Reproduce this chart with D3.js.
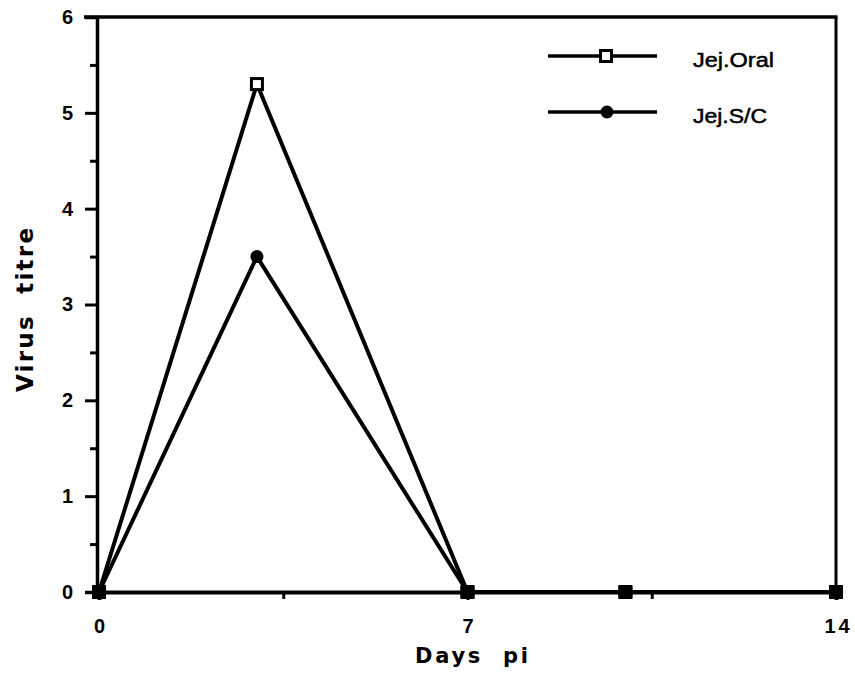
<!DOCTYPE html>
<html><head><meta charset="utf-8">
<script src="https://cdn.jsdelivr.net/npm/d3@7"></script>
<style>body{margin:0;background:#fff}text{font-family:"Liberation Sans",Arial,sans-serif;fill:#000}</style>
</head><body><svg id="c" width="855" height="679"></svg>
<script>
const days = [0, 3, 7, 10, 14];
const jejOral = [0, 5.3, 0, 0, 0];
const jejSC = [0, 3.5, 0, 0, 0];
const xTicks = [0, 7, 14];
const yTicks = [0, 1, 2, 3, 4, 5, 6];
const seriesNames = ["Jej.Oral", "Jej.S/C"];

const svg = d3.select("#c");
const x = d3.scaleLinear().domain([0, 14]).range([99, 836]);
const y = d3.scaleLinear().domain([0, 6]).range([592, 17]);
const FONT = "Liberation Sans, Arial, sans-serif";
const TFONT = "DejaVu Sans, Liberation Sans, sans-serif";

// frame top & right
svg.append("line").attr("x1", 84).attr("x2", x(14)+1.5).attr("y1", y(6)).attr("y2", y(6)).attr("stroke","#000").attr("stroke-width",3.5);
svg.append("line").attr("x1", x(14)).attr("x2", x(14)).attr("y1", y(6)).attr("y2", y(0)).attr("stroke","#000").attr("stroke-width",3);

// y axis
const ya = svg.append("g").attr("transform", `translate(${x(0)-2},0)`)
  .call(d3.axisLeft(y).tickValues(yTicks).tickSize(12).tickPadding(12).tickFormat(d3.format("d")));
ya.select(".domain").attr("stroke-width",3.5);
ya.selectAll(".tick line").attr("stroke-width",3);
ya.selectAll(".tick text").style("font-size","20px").style("font-weight","bold").style("font-family",FONT);
const yMinor = svg.append("g").attr("transform", `translate(${x(0)-2},0)`)
  .call(d3.axisLeft(y).tickValues([0.5,1.5,2.5,3.5,4.5,5.5]).tickSize(7).tickFormat(""));
yMinor.select(".domain").remove();
yMinor.selectAll(".tick line").attr("stroke-width",3);

// x axis
const xa = svg.append("g").attr("transform", `translate(0,${y(0)})`)
  .call(d3.axisBottom(x).tickValues(xTicks).tickSize(8).tickPadding(19).tickFormat(d3.format("d")));
xa.select(".domain").attr("stroke-width",4);
xa.selectAll(".tick line").attr("stroke-width",3);
xa.selectAll(".tick text").style("font-size","20px").style("font-weight","bold").style("font-family",FONT);
xa.selectAll(".tick text").filter(d => d === 14).attr("letter-spacing","3px").attr("dx","2px");
const xMinor = svg.append("g").attr("transform", `translate(0,${y(0)})`)
  .call(d3.axisBottom(x).tickValues([3.5,10.5]).tickSize(7).tickFormat(""));
xMinor.select(".domain").remove();
xMinor.selectAll(".tick line").attr("stroke-width",3);

// axis titles
svg.append("text").attr("x", 415).attr("y", 663).attr("textLength",113).attr("lengthAdjust","spacing")
  .style("font-family",TFONT).style("font-size","21px").style("font-weight","bold").attr("xml:space","preserve").text("Days  pi");
svg.append("text").attr("transform","translate(33,392) rotate(-90)").attr("textLength",164).attr("lengthAdjust","spacing")
  .style("font-family",TFONT).style("font-size","23px").style("font-weight","bold").attr("xml:space","preserve").text("Virus  titre");

const line = d3.line().x(d => x(d[0])).y(d => y(d[1]));
const oral = days.map((d,i) => [d, jejOral[i]]);
const sc = days.map((d,i) => [d, jejSC[i]]);

svg.append("path").datum(oral).attr("d", line).attr("fill","none").attr("stroke","#000").attr("stroke-width",4).attr("stroke-linejoin","round");
svg.append("path").datum(sc).attr("d", line).attr("fill","none").attr("stroke","#000").attr("stroke-width",4).attr("stroke-linejoin","round");

svg.selectAll(".sq").data(oral).enter().append("rect")
  .attr("x", d => x(d[0])-5.5).attr("y", d => y(d[1])-5.5).attr("width",11).attr("height",11)
  .attr("fill","#fff").attr("stroke","#000").attr("stroke-width",3);
svg.selectAll(".ci").data(sc).enter().append("circle")
  .attr("cx", d => x(d[0])).attr("cy", d => y(d[1])).attr("r", 6.5).attr("fill","#000");
// coincident markers on the baseline appear as filled squares
svg.selectAll(".fs").data(sc.filter(d => d[1] === 0)).enter().append("rect")
  .attr("x", d => x(d[0])-7).attr("y", d => y(d[1])-7).attr("width",14).attr("height",14).attr("rx",2).attr("fill","#000");

// legend
const lg = svg.append("g");
const ly = [56, 112];
lg.selectAll("line").data(ly).enter().append("line")
  .attr("x1",548).attr("x2",657).attr("y1",d=>d).attr("y2",d=>d).attr("stroke","#000").attr("stroke-width",3.5);
lg.append("rect").attr("x",606-5.5).attr("y",ly[0]-5.5).attr("width",11).attr("height",11).attr("fill","#fff").attr("stroke","#000").attr("stroke-width",3);
lg.append("circle").attr("cx",607).attr("cy",ly[1]).attr("r",6.5).attr("fill","#000");
lg.selectAll("text").data(seriesNames).enter().append("text")
  .attr("x",693).attr("y",(d,i)=>ly[i]+11).attr("textLength",(d,i)=>i===0?81:74).attr("lengthAdjust","spacingAndGlyphs")
  .style("font-size","20px").style("stroke","#000").style("stroke-width","0.5px").text(d=>d);
</script></body></html>
